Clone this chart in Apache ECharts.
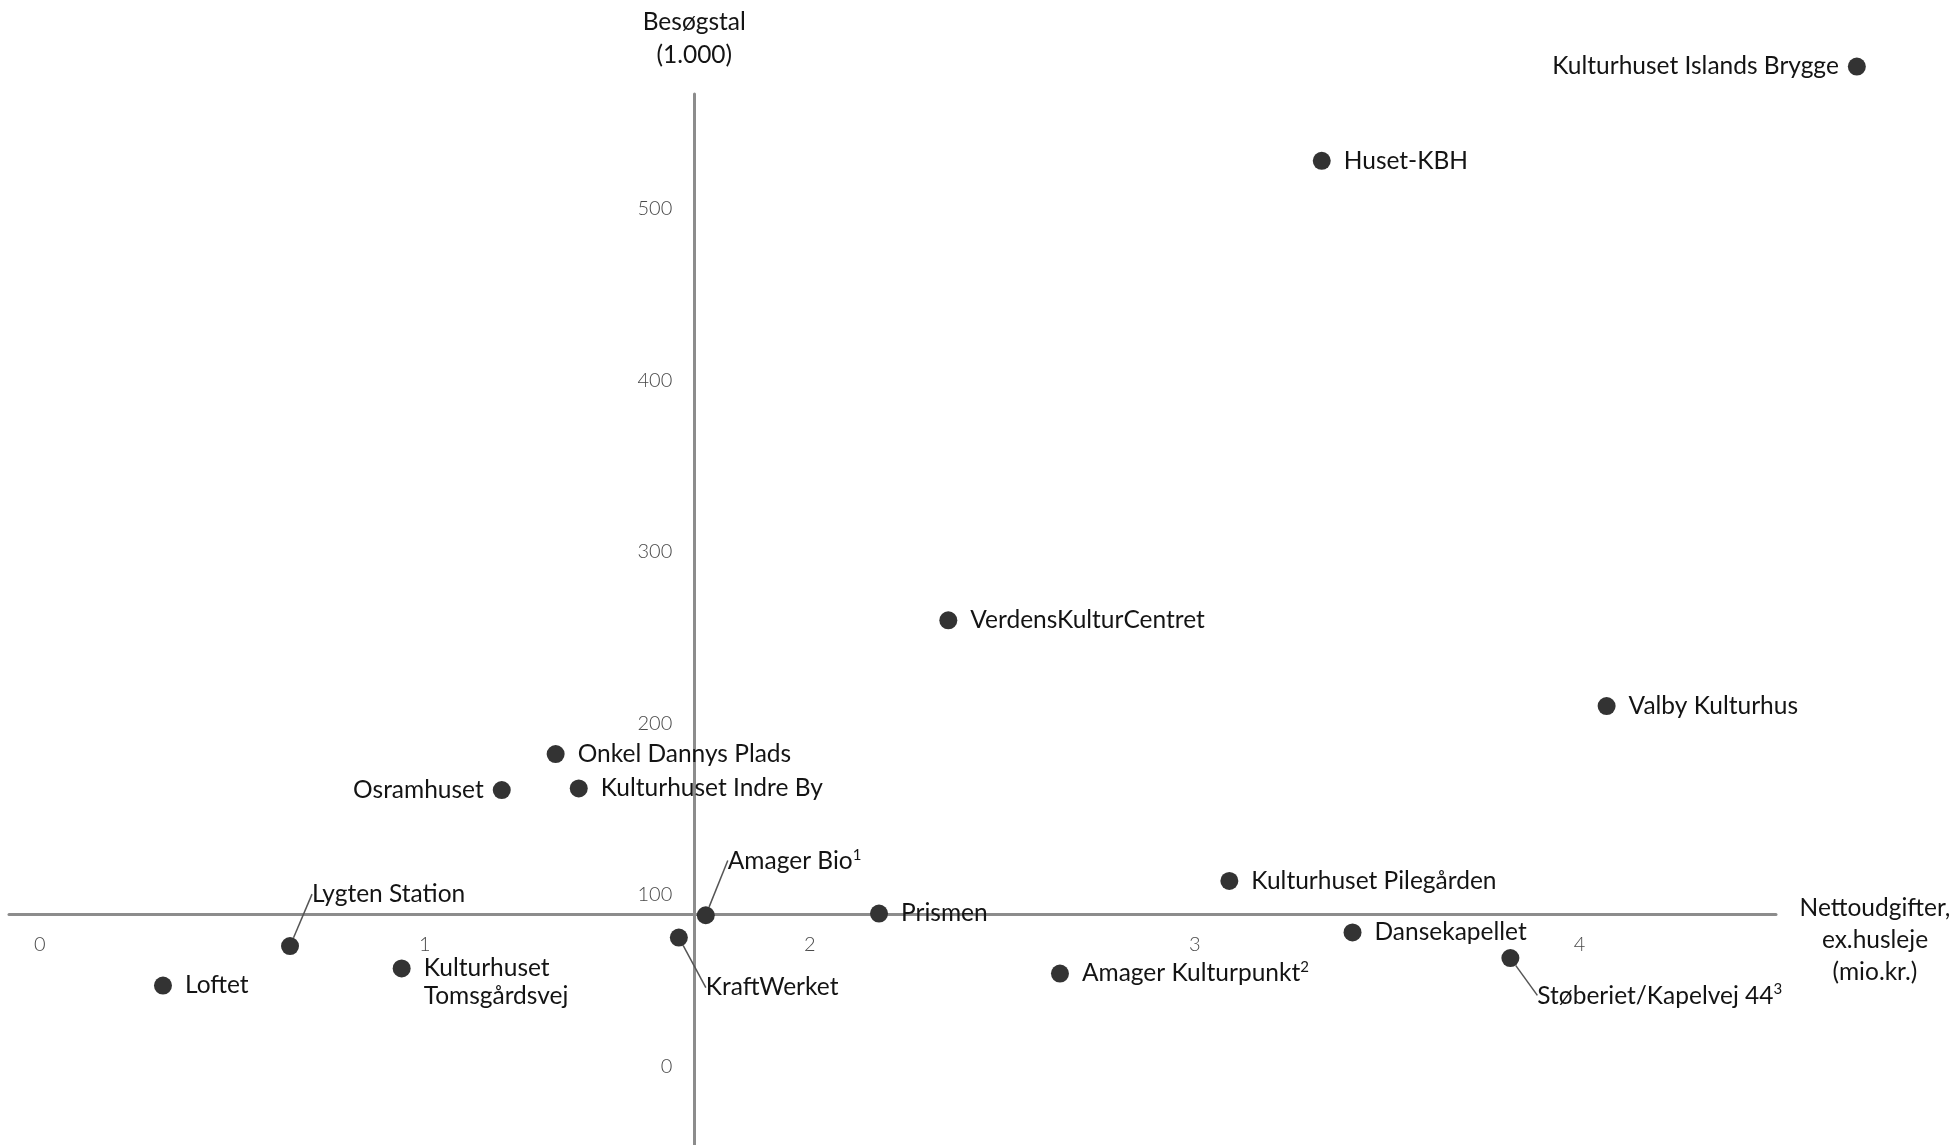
<!DOCTYPE html>
<html>
<head>
<meta charset="utf-8">
<script src="https://cdn.jsdelivr.net/npm/echarts@6/dist/echarts.min.js"></script>
<style>
html,body{margin:0;padding:0;background:#fff;}
#chart{width:1959px;height:1145px;}
</style>
</head>
<body>
<div id="chart"></div>
<script>
// ---- data ----
const venues = [
  'Kulturhuset Islands Brygge', 'Huset-KBH', 'VerdensKulturCentret', 'Valby Kulturhus',
  'Onkel Dannys Plads', 'Osramhuset', 'Kulturhuset Indre By', 'Amager Bio',
  'Prismen', 'Kulturhuset Pilegården', 'Dansekapellet', 'Støberiet/Kapelvej 44',
  'Amager Kulturpunkt', 'KraftWerket', 'Kulturhuset\nTomsgårdsvej', 'Lygten Station', 'Loftet'
];
// Nettoudgifter ex. husleje (mio. kr.)
const netExpenses = [4.72, 3.33, 2.36, 4.07, 1.34, 1.20, 1.40, 1.73, 2.18, 3.09, 3.41, 3.82, 2.65, 1.66, 0.94, 0.65, 0.32];
// Besøgstal (1.000)
const visitors = [583, 528, 260, 210, 182, 161, 162, 88, 89, 108, 78, 63, 54, 75, 57, 70, 47];
// footnote markers
const footnotes = { 'Amager Bio': '1', 'Amager Kulturpunkt': '2', 'Støberiet/Kapelvej 44': '3' };
// axis crossing (averages)
const xCross = 1.70;
const yCross = 88.6;
const xTicks = [0, 1, 2, 3, 4];
const yTicks = [0, 100, 200, 300, 400, 500];
const xNameLines = ['Nettoudgifter,', 'ex.husleje', '(mio.kr.)'];
const yName = 'Besøgstal\n(1.000)';

// ---- layout / style ----
const W = 1959, H = 1145;
const grid = { left: 9, right: 183, top: 94, bottom: 0 };
const xMin = -0.08, xMax = 4.51, yMin = -46, yMax = 567;
const gridW = W - grid.left - grid.right;
const gridH = H - grid.top - grid.bottom;
const xOffset = -gridH * (yCross - yMin) / (yMax - yMin);
const yOffset = -gridW * (xCross - xMin) / (xMax - xMin);

const FONT = 'Lato, "Open Sans", sans-serif';
const TXT = '#141414';
const LBL = 24.5;
const leftLabels = ['Kulturhuset Islands Brygge', 'Osramhuset'];
const moved = {
  'Lygten Station': [0, -52],
  'Amager Bio': [0, -54],
  'KraftWerket': [5, 50],
  'Støberiet/Kapelvej 44': [5, 38]
};
const twoLine = ['Kulturhuset\nTomsgårdsvej'];

const data = venues.map((name, i) => {
  const item = { name: name, value: [netExpenses[i], visitors[i]] };
  const label = {};
  if (leftLabels.includes(name)) { label.position = 'left'; label.distance = 9; }
  if (twoLine.includes(name)) { label.padding = [28, 0, 0, 0]; }
  item.label = label;
  if (moved[name]) item.labelLine = { show: true };
  return item;
});

const chart = echarts.init(document.getElementById('chart'));
chart.setOption({
  backgroundColor: '#fff',
  animation: false,
  grid: grid,
  xAxis: {
    type: 'value', min: xMin, max: xMax,
    offset: xOffset,
    name: '{gap|}\n' + xNameLines.map(l => '{a|' + l + '}').join('\n'),
    nameLocation: 'end', nameGap: 99,
    nameTextStyle: {
      fontFamily: FONT, fontSize: LBL, color: TXT, align: 'center', verticalAlign: 'middle',
      rich: {
        gap: { height: 52, lineHeight: 52 },
        a: { fontFamily: FONT, fontSize: LBL, color: TXT, lineHeight: 32, align: 'center' }
      }
    },
    axisLine: { show: true, lineStyle: { color: '#8c8c8c', width: 3 } },
    axisTick: { show: false },
    splitLine: { show: false },
    axisLabel: { customValues: xTicks, fontFamily: FONT, fontSize: 20, fontWeight: 300, color: '#4a4a4a', margin: 20 }
  },
  yAxis: {
    type: 'value', min: yMin, max: yMax,
    offset: yOffset,
    name: yName, nameLocation: 'end', nameGap: 22,
    nameTextStyle: { fontFamily: FONT, fontSize: LBL, color: TXT, align: 'center', lineHeight: 33 },
    axisLine: { show: true, lineStyle: { color: '#8c8c8c', width: 3 } },
    axisTick: { show: false },
    splitLine: { show: false },
    axisLabel: { customValues: yTicks, fontFamily: FONT, fontSize: 20, fontWeight: 300, color: '#4a4a4a', margin: 22 }
  },
  series: [{
    type: 'scatter',
    clip: false,
    symbol: 'circle',
    symbolSize: 18,
    itemStyle: { color: '#333', opacity: 1 },
    data: data,
    label: {
      show: true, position: 'right', distance: 13,
      formatter: p => footnotes[p.name] ? '{n|' + p.name + '}{s|' + footnotes[p.name] + '}' : '{n|' + p.name.replace('\n', '}\n{n|') + '}',
      rich: {
        n: { fontFamily: FONT, fontSize: LBL, color: TXT, lineHeight: 28 },
        s: { fontFamily: FONT, fontSize: 15, color: TXT, lineHeight: 28, verticalAlign: 'top' }
      }
    },
    labelLine: { show: false, lineStyle: { color: '#555', width: 1.5 } },
    labelLayout: p => {
      const m = moved[venues[p.dataIndex]];
      return m ? { dx: m[0], dy: m[1] } : {};
    }
  }]
});
</script>
</body>
</html>
